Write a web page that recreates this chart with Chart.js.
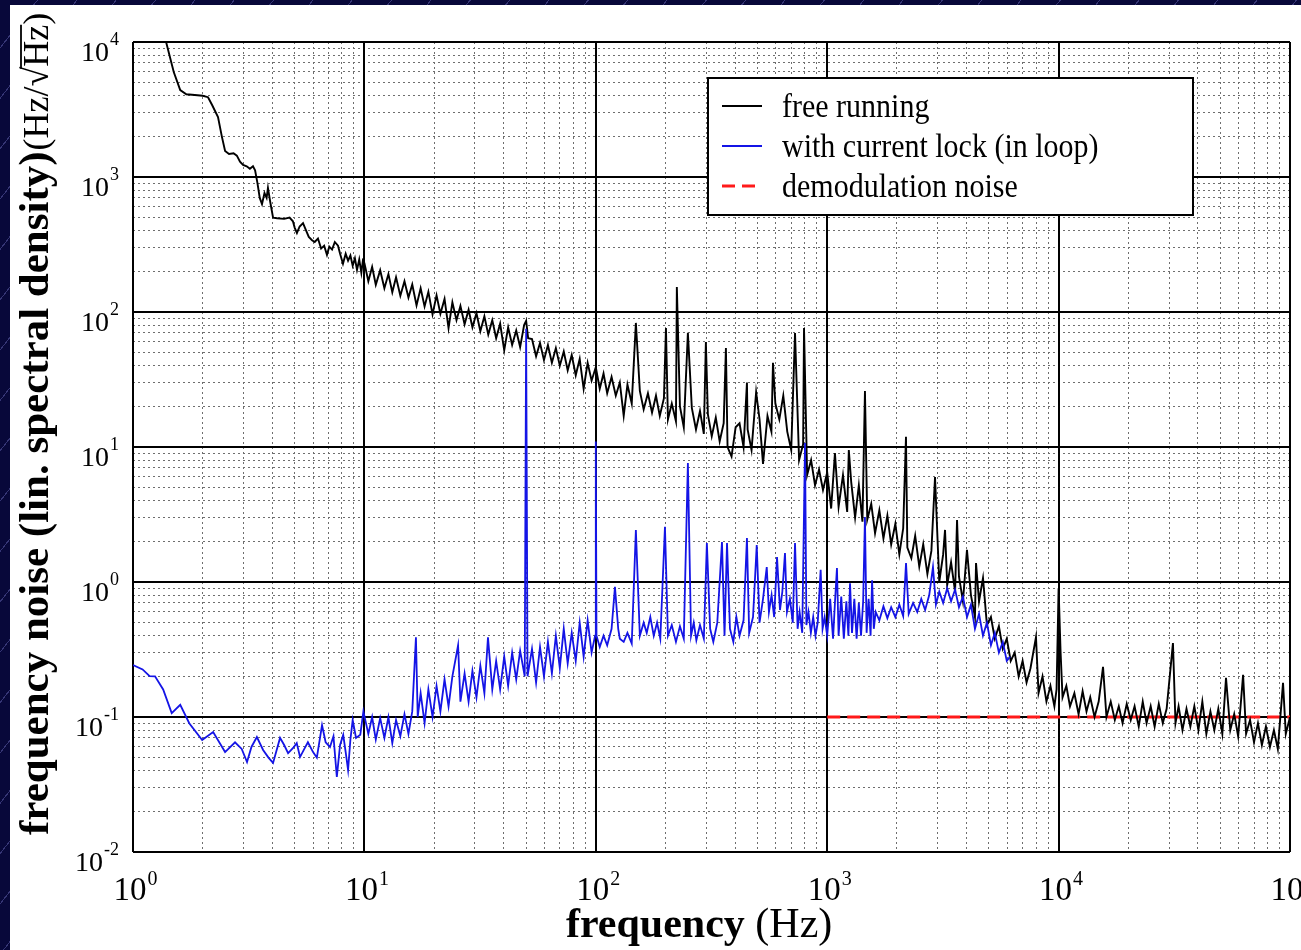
<!DOCTYPE html>
<html lang="en">
<head>
    <meta charset="UTF-8">
    <title>Frequency noise spectrum</title>
    <script src="https://cdn.jsdelivr.net/npm/chart.js"></script>
    <style>
        html, body { margin: 0; padding: 0; }
        body {
            width: 1301px; height: 950px; overflow: hidden; position: relative;
            background-color: #08083a;
            background-image: repeating-linear-gradient(-52deg, rgba(0,0,0,0) 0px, rgba(0,0,0,0) 30px,
                rgba(110,110,190,0.45) 30px, rgba(110,110,190,0.45) 31px);
        }
        #panel { position: absolute; left: 10px; top: 5px; width: 1291px; height: 945px; background: #fff; }
    </style>
</head>
<body>
<div id="panel"><canvas id="noiseChart" width="1291" height="945"></canvas></div>

<script>
    // free running laser, frequency noise (Hz/sqrt(Hz)) vs frequency (Hz)
    const freeFreq = [
        1, 1.2, 1.39, 1.5, 1.6, 1.7, 1.85, 2.0, 2.11, 2.2,
        2.33, 2.42, 2.5, 2.6, 2.72, 2.81, 2.9, 2.99, 3.1, 3.2,
        3.3, 3.37, 3.45, 3.53, 3.61, 3.7, 3.78, 3.83, 3.92, 4.03,
        4.2, 4.5, 4.75, 4.91, 5.0, 5.11, 5.25, 5.43, 5.6, 5.75,
        5.94, 6.1, 6.3, 6.5, 6.7, 6.89, 7.05, 7.25, 7.45, 7.69,
        7.85, 8.08, 8.3, 8.5, 8.7, 8.9, 9.1, 9.29, 9.5, 9.7,
        9.85, 10, 10.4, 10.8, 11.2, 11.7, 12.2, 12.7, 13.2, 13.7,
        14.3, 14.9, 15.5, 16.1, 16.8, 17.5, 18.2, 18.9, 19.7, 20.5,
        21.3, 22.2, 23.1, 24.0, 25.0, 26.0, 27.1, 28.2, 29.3, 30.5,
        31.7, 33.0, 34.3, 35.7, 37.1, 38.6, 40.2, 41.8, 43.5, 45.3,
        47.1, 49.0, 50.0, 51.0, 53.0, 55.2, 57.4, 59.7, 62.1, 64.6,
        67.2, 69.9, 72.7, 75.6, 78.7, 81.9, 85.2, 88.6, 92.2, 95.9,
        100, 104, 108, 112, 117, 122, 127, 132, 137, 143,
        149, 155, 161, 168, 175, 182, 189, 197, 201, 205,
        213, 222, 224, 231, 240, 250, 260, 271, 282, 293,
        299, 305, 317, 330, 343, 357, 365, 371, 386, 402,
        418, 435, 450, 453, 471, 493, 510, 528, 552, 574,
        583, 597, 621, 646, 672, 699, 726, 756, 787, 794,
        819, 852, 886, 922, 959,
        1000, 1040, 1080, 1120, 1170, 1220, 1240, 1270, 1320, 1370,
        1420, 1456, 1490, 1550, 1610, 1680, 1750, 1820, 1890, 1970,
        2050, 2130, 2190, 2220, 2310, 2400, 2500, 2600, 2710, 2820,
        2924, 3050, 3170, 3230, 3300, 3430, 3570, 3640, 3710, 3860,
        4018, 4180, 4350, 4397, 4530, 4713, 4900, 5100, 5300, 5520,
        5740, 5970, 6210, 6460, 6720, 6990, 7270, 7560, 7985, 8190,
        8520, 8860, 9220, 9590, 9800,
        10000, 10200, 10400, 10800, 11200, 11700, 12200, 12700, 13200, 13700,
        14300, 14900, 15560, 16100, 16800, 17500, 18200, 18900, 19700, 20500,
        21300, 22200, 23100, 24000, 25000, 26000, 27100, 28200, 29300, 31200,
        32000, 33000, 34300, 35700, 37100, 38600, 40200, 41800, 43500, 45300,
        47100, 49000, 51000, 52900, 55200, 57400, 59700, 62700, 64600, 67200,
        69900, 72700, 75600, 78700, 81900, 85200, 88600, 93300, 95900, 100000
    ];
    const freeVal = [
        60000, 25000, 10000, 6000, 4400, 4100, 4050, 4000, 3900, 3400,
        2780, 2000, 1560, 1480, 1500, 1440, 1300, 1230, 1200, 1150,
        1200, 1120, 900, 700, 630, 760, 700, 830, 650, 500,
        495, 490, 500, 470, 420, 385, 430, 455, 400, 360,
        340, 330, 350, 295, 310, 265, 305, 290, 330, 310,
        270, 228, 270, 240, 262, 220, 250, 205, 245, 195,
        240, 230, 169, 216, 159, 204, 150, 191, 140, 181,
        132, 169, 128, 160, 112, 150, 110, 141, 96, 133,
        97, 125, 76, 118, 87, 111, 81, 104, 77, 98,
        72, 93, 68, 87, 64, 82, 52, 77, 57, 73,
        55, 80, 86, 64, 63, 47, 59, 44, 57, 42,
        54, 40, 51, 37, 48, 34, 45, 27, 42, 31,
        39, 27, 35, 25, 33, 24, 30, 17, 29, 21,
        83, 26, 19, 25, 18, 24, 17, 23, 76, 16,
        21, 15.5, 153, 20, 14, 70, 19.5, 13.5, 18.5, 12.5,
        60, 17.5, 12, 16.5, 11, 15, 54, 10, 8.5, 14,
        15, 10, 30, 13.5, 9.5, 25.5, 16, 7.5, 17, 13,
        42, 21, 16, 24, 13, 9.5, 70, 8, 10.5, 76,
        6.2, 8, 5.2, 6.8, 4.8,
        6.5, 3.5, 9, 3.6, 6.2, 3.3, 9.5, 5.5, 3.0, 5.2,
        2.8, 26, 2.9, 3.8, 2.3, 3.4, 2.1, 3.1, 1.9, 2.7,
        1.6, 2.5, 11.9, 1.8, 1.5, 2.2, 1.3, 1.9, 1.15, 1.7,
        6.0, 1.0, 1.6, 2.43, 0.95, 1.4, 0.85, 2.88, 1.1, 0.72,
        1.73, 0.8, 0.55, 1.38, 0.72, 1.07, 0.48, 0.55, 0.38, 0.47,
        0.32, 0.38, 0.26, 0.3, 0.2, 0.26, 0.18, 0.23, 0.39, 0.15,
        0.2, 0.13, 0.17, 0.12, 0.16,
        0.9, 0.3, 0.14, 0.17, 0.12, 0.15, 0.105, 0.155, 0.11, 0.14,
        0.1, 0.13, 0.235, 0.1, 0.13, 0.095, 0.12, 0.09, 0.125, 0.095,
        0.12, 0.085, 0.13, 0.09, 0.12, 0.085, 0.125, 0.09, 0.115, 0.353,
        0.09, 0.12, 0.08, 0.115, 0.085, 0.12, 0.08, 0.13, 0.075, 0.11,
        0.08, 0.115, 0.075, 0.195, 0.08, 0.105, 0.072, 0.205, 0.075, 0.095,
        0.065, 0.09, 0.062, 0.085, 0.06, 0.08, 0.058, 0.179, 0.075, 0.1
    ];

    // with current lock (in loop)
    const lockFreq = [
        1, 1.1, 1.18, 1.245, 1.35, 1.47, 1.6, 1.75, 1.99, 2.22,
        2.5, 2.76, 2.95, 3.11, 3.25, 3.43, 3.65, 3.85, 4.03, 4.32,
        4.5, 4.68, 4.92, 5.1, 5.27, 5.5, 5.7, 6.0, 6.23, 6.56,
        6.8, 7.1, 7.35, 7.6, 7.85, 8.1, 8.3, 8.5, 8.7, 8.9,
        9.2, 9.6, 9.9, 10.4, 10.8, 11.2, 11.7, 12.2, 12.7, 13.2,
        13.7, 14.3, 14.9, 15.5, 16.1, 16.7, 17.0, 17.5, 18.2, 18.9,
        19.7, 20.5, 21.3, 22.2, 23.1, 24.0, 25.4, 26.0, 27.1, 28.2,
        29.3, 30.5, 31.7, 33.0, 34.2, 35.7, 37.1, 38.6, 40.2, 41.8,
        43.5, 45.3, 47.1, 49.3, 50, 50.7, 53.0, 55.2, 57.4, 59.7,
        62.1, 64.6, 67.2, 69.9, 72.7, 75.6, 78.7, 81.9, 85.2, 88.6,
        92.2, 95.9, 99.3, 100, 100.7, 104, 108, 112, 117, 121,
        125, 127, 132, 137, 143, 149, 155, 161, 166, 172,
        178, 184, 190, 199, 205, 213, 222, 231, 240, 250,
        258, 265, 272, 282, 293, 302, 312, 322, 335, 351,
        360, 369, 380, 393, 405, 418, 435, 450, 460, 478,
        496, 510, 528, 548, 560, 575, 590, 607, 625, 640,
        657, 670, 690, 710, 726, 745, 760, 780, 802, 813,
        830, 850, 870, 890, 910, 937, 955, 975, 1000, 1030,
        1060, 1080, 1102, 1120, 1150, 1180, 1210, 1235, 1255, 1280,
        1310, 1340, 1370, 1400, 1430, 1456, 1480, 1510, 1540, 1563,
        1590, 1620, 1680, 1750, 1820, 1890, 1970, 2050, 2130, 2191,
        2250, 2350, 2450, 2550, 2650, 2760, 2865, 2950, 3050, 3170,
        3300, 3430, 3570, 3710, 3860, 4020, 4180, 4350, 4530, 4710,
        4900, 5100, 5300, 5520, 5740, 5970, 6166
    ];
    const lockVal = [
        0.243, 0.225, 0.201, 0.2, 0.16, 0.107, 0.123, 0.09, 0.0676, 0.0774,
        0.055, 0.065, 0.058, 0.0464, 0.06, 0.071, 0.057, 0.05, 0.0457, 0.07,
        0.062, 0.054, 0.059, 0.064, 0.0505, 0.058, 0.065, 0.055, 0.05, 0.087,
        0.065, 0.06, 0.072, 0.036, 0.062, 0.0737, 0.055, 0.0405, 0.068, 0.095,
        0.07, 0.074, 0.11, 0.075, 0.1, 0.068, 0.098, 0.07, 0.1, 0.064,
        0.095, 0.072, 0.105, 0.075, 0.11, 0.39, 0.1, 0.15, 0.09, 0.16,
        0.1, 0.17, 0.11, 0.19, 0.12, 0.2, 0.34, 0.13, 0.21, 0.13,
        0.22, 0.14, 0.24, 0.15, 0.39, 0.16, 0.26, 0.16, 0.28, 0.17,
        0.3, 0.19, 0.31, 0.2, 75, 0.2, 0.32, 0.18, 0.33, 0.2,
        0.36, 0.21, 0.4, 0.23, 0.45, 0.25, 0.42, 0.26, 0.5, 0.28,
        0.52, 0.3, 0.4, 11, 0.4, 0.33, 0.4, 0.34, 0.45, 0.92,
        0.45, 0.38, 0.36, 0.42, 0.35, 2.43, 0.4, 0.5, 0.42, 0.55,
        0.4, 0.5, 0.38, 2.56, 0.4, 0.48, 0.36, 0.47, 0.38, 7.6,
        0.4, 0.5, 0.37, 0.48, 0.38, 1.94, 0.45, 0.36, 0.5, 1.98,
        0.4, 1.94, 0.45, 0.36, 0.55, 0.4, 0.52, 2.12, 0.42, 0.55,
        1.88, 0.5, 0.75, 1.29, 0.6, 0.8, 0.55, 1.53, 0.62, 0.85,
        1.64, 0.6, 0.75, 0.5, 1.94, 0.45, 0.6, 0.42, 10.7, 0.48,
        0.6, 0.42, 0.55, 0.4, 0.5, 1.23, 0.45, 0.55, 0.4, 0.75,
        0.38, 0.7, 1.27, 0.4, 0.78, 0.38, 0.72, 0.4, 0.98, 0.42,
        0.75, 0.38, 0.7, 0.4, 0.72, 3.03, 0.42, 0.75, 0.4, 1.03,
        0.45, 0.6, 0.52, 0.66, 0.54, 0.65, 0.55, 0.68, 0.56, 1.38,
        0.58, 0.7, 0.6, 0.75, 0.62, 0.8, 1.29, 0.68, 0.85, 0.7,
        0.9, 0.72, 0.88, 0.65, 0.78, 0.55, 0.68, 0.45, 0.58, 0.4,
        0.5, 0.34, 0.42, 0.3, 0.36, 0.26, 0.28
    ];

    // demodulation noise floor
    const demodFreq = [1000, 100000];
    const demodVal = [0.1, 0.1];

    // decade ticks and their exponent labels
    const xDecades = [1, 10, 100, 1000, 10000, 100000];
    const xExponents = ['0', '1', '2', '3', '4', '5'];
    const yDecades = [0.01, 0.1, 1, 10, 100, 1000, 10000];
    const yExponents = ['-2', '-1', '0', '1', '2', '3', '4'];

    const xTitleBold = 'frequency';
    const xTitleUnit = '(Hz)';
    const yTitleBold = 'frequency noise (lin. spectral density)';
    const yTitleUnit = '(Hz/\u221AHz)';

    const SERIF = '"Liberation Serif", "Times New Roman", serif';

    function minorTicks(decades) {
        const out = [];
        for (let i = 0; i < decades.length - 1; i++) {
            for (let k = 2; k <= 9; k++) out.push(k * decades[i]);
        }
        return out;
    }

    const toPoints = (xs, ys) => xs.map((x, i) => ({ x: x, y: ys[i] }));

    function logAxis(axis, min, max, tickValues, gridOpts, dash) {
        return {
            type: 'logarithmic',
            axis: axis,
            position: axis === 'x' ? 'bottom' : 'left',
            min: min,
            max: max,
            afterBuildTicks: scale => { scale.ticks = tickValues.map(v => ({ value: v })); },
            ticks: { display: false },
            grid: Object.assign({ drawTicks: false }, gridOpts),
            border: { display: false, dash: dash }
        };
    }

    // tick labels (10 with raised exponent), axis titles and legend box
    const annotations = {
        id: 'annotations',
        afterDraw(chart) {
            const ctx = chart.ctx;
            const area = chart.chartArea;
            const xs = chart.scales.x;
            const ys = chart.scales.y;
            ctx.save();
            ctx.fillStyle = '#000';
            ctx.textBaseline = 'alphabetic';
            ctx.textAlign = 'left';

            // x tick labels
            xDecades.forEach((v, i) => {
                const px = xs.getPixelForValue(v);
                ctx.font = '33px ' + SERIF;
                const wBase = ctx.measureText('10').width;
                ctx.font = '20px ' + SERIF;
                const wExp = ctx.measureText(xExponents[i]).width;
                const left = px - (wBase + wExp) / 2 + 2;
                ctx.font = '33px ' + SERIF;
                ctx.fillText('10', left, area.bottom + 48);
                ctx.font = '20px ' + SERIF;
                ctx.fillText(xExponents[i], left + wBase + 1, area.bottom + 33);
            });

            // y tick labels, right aligned against the axis
            yDecades.forEach((v, i) => {
                const py = ys.getPixelForValue(v);
                ctx.font = '18px ' + SERIF;
                const wExp = ctx.measureText(yExponents[i]).width;
                ctx.font = '28px ' + SERIF;
                const wBase = ctx.measureText('10').width;
                const right = area.left - 14;
                ctx.fillText('10', right - wExp - 1 - wBase, py + 19);
                ctx.font = '18px ' + SERIF;
                ctx.fillText(yExponents[i], right - wExp, py + 3);
            });

            // x axis title
            ctx.font = 'bold 42px ' + SERIF;
            const xt = area.left + 433;
            ctx.fillText(xTitleBold, xt, area.bottom + 85);
            const wxb = ctx.measureText(xTitleBold + ' ').width;
            ctx.font = '42px ' + SERIF;
            ctx.fillText(xTitleUnit, xt + wxb, area.bottom + 85);

            // y axis title, rotated
            ctx.save();
            ctx.translate(area.left - 85, area.bottom - 17);
            ctx.rotate(-Math.PI / 2);
            ctx.font = 'bold 43px ' + SERIF;
            ctx.fillText(yTitleBold, 0, 0);
            const wyb = ctx.measureText(yTitleBold).width;
            ctx.font = '36px ' + SERIF;
            ctx.fillText(yTitleUnit, wyb + 1, 0);
            const wPre = ctx.measureText('(Hz/\u221A').width;
            const wHz = ctx.measureText('Hz').width;
            ctx.strokeStyle = '#000';
            ctx.lineWidth = 1.8;
            ctx.beginPath();
            ctx.moveTo(wyb + 1 + wPre - 2, -27);
            ctx.lineTo(wyb + 1 + wPre + wHz, -27);
            ctx.stroke();
            ctx.restore();

            // legend
            const bx = area.left + 575, by = area.top + 36, bw = 485, bh = 137;
            ctx.fillStyle = '#fff';
            ctx.fillRect(bx, by, bw, bh);
            ctx.strokeStyle = '#000';
            ctx.lineWidth = 2;
            ctx.strokeRect(bx, by, bw, bh);
            chart.data.datasets.forEach((ds, i) => {
                const base = by + 39 + i * 40;
                ctx.save();
                ctx.strokeStyle = ds.borderColor;
                ctx.lineWidth = Math.min(ds.borderWidth, 3);
                ctx.setLineDash(ds.borderDash || []);
                ctx.beginPath();
                ctx.moveTo(bx + 14, base - 11);
                ctx.lineTo(bx + 54, base - 11);
                ctx.stroke();
                ctx.restore();
                ctx.save();
                ctx.fillStyle = '#000';
                ctx.font = '30px ' + SERIF;
                ctx.translate(bx + 74, base);
                ctx.scale(1, 1.15);
                ctx.fillText(ds.label, 0, 0);
                ctx.restore();
            });
            ctx.restore();
        }
    };

    const ctx = document.getElementById('noiseChart').getContext('2d');
    new Chart(ctx, {
        type: 'line',
        data: {
            datasets: [
                {
                    label: 'free running',
                    data: toPoints(freeFreq, freeVal),
                    borderColor: '#000000',
                    borderWidth: 1.9,
                    order: 2
                },
                {
                    label: 'with current lock (in loop)',
                    data: toPoints(lockFreq, lockVal),
                    borderColor: '#1414e6',
                    borderWidth: 1.8,
                    order: 1
                },
                {
                    label: 'demodulation noise',
                    data: toPoints(demodFreq, demodVal),
                    borderColor: '#ff1a1a',
                    borderWidth: 3,
                    borderDash: [13, 7],
                    order: 3
                }
            ]
        },
        options: {
            responsive: false,
            animation: false,
            layout: { padding: { left: 123, right: 11, top: 37, bottom: 98 } },
            elements: { point: { radius: 0 }, line: { tension: 0 } },
            plugins: { legend: { display: false }, tooltip: { enabled: false } },
            scales: {
                xMinor: logAxis('x', 1, 100000, minorTicks(xDecades),
                    { color: '#6e6e6e', lineWidth: 1, z: -2 }, [2, 3]),
                yMinor: logAxis('y', 0.01, 10000, minorTicks(yDecades),
                    { color: '#6e6e6e', lineWidth: 1, z: -2 }, [2, 3]),
                x: logAxis('x', 1, 100000, xDecades, { color: '#000', lineWidth: 2 }, []),
                y: logAxis('y', 0.01, 10000, yDecades, { color: '#000', lineWidth: 2 }, [])
            }
        },
        plugins: [annotations]
    });
</script>
</body>
</html>
